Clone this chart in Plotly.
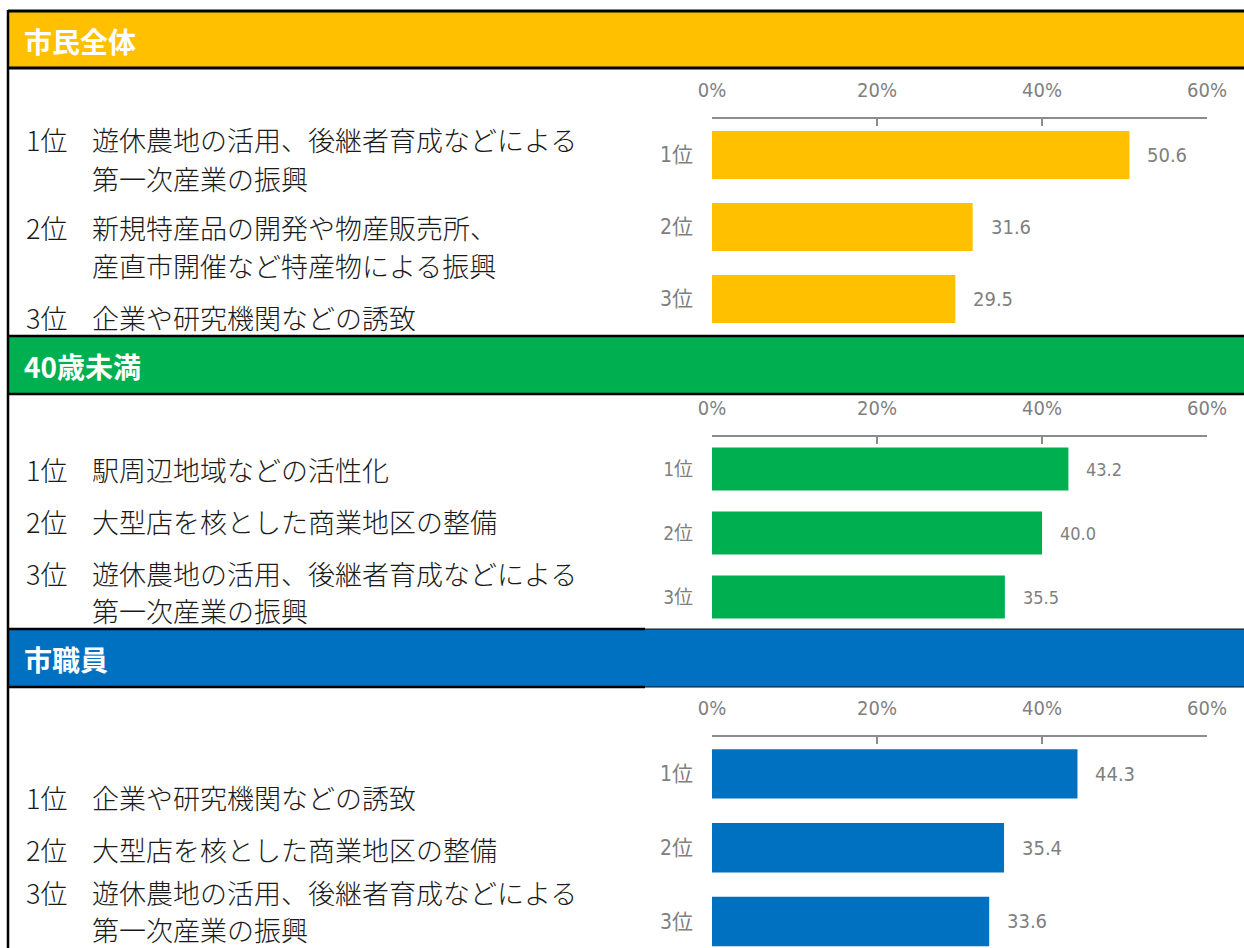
import plotly.graph_objects as go

W, H = 1244, 948

# ---- data -------------------------------------------------------------
section_titles = ["市民全体", "40歳未満", "市職員"]
section_colors = ["#FFC000", "#00B050", "#0070C0"]
ranks = ["1位", "2位", "3位"]

values_all = [50.6, 31.6, 29.5]
values_under40 = [43.2, 40.0, 35.5]
values_staff = [44.3, 35.4, 33.6]

items_all = [
    ["遊休農地の活用、後継者育成などによる", "第一次産業の振興"],
    ["新規特産品の開発や物産販売所、", "産直市開催など特産物による振興"],
    ["企業や研究機関などの誘致"],
]
items_under40 = [
    ["駅周辺地域などの活性化"],
    ["大型店を核とした商業地区の整備"],
    ["遊休農地の活用、後継者育成などによる", "第一次産業の振興"],
]
items_staff = [
    ["企業や研究機関などの誘致"],
    ["大型店を核とした商業地区の整備"],
    ["遊休農地の活用、後継者育成などによる", "第一次産業の振興"],
]

x_ticks = [0, 20, 40, 60]
x_tick_text = ["0%", "20%", "40%", "60%"]


def px(x):
    return x / W


def py(y):
    return 1 - y / H


JP = "Noto Sans CJK JP"
NARROW = "Liberation Sans Narrow, DejaVu Sans Condensed, Liberation Sans, Noto Sans CJK JP, sans-serif"
GRAY = "#7F7F7F"
AXIS_GRAY = "#8C8C8C"

fig = go.Figure()

# panel geometry (pixels): header band, chart area, y-range, label lines
panels = [
    dict(values=values_all, items=items_all, band=(11, 68), plot=(119, 335),
         yrange=[2.5, -0.5], lines=[[140, 178], [228, 265], [317]], fs=20),
    dict(values=values_under40, items=items_under40, band=(336, 394), plot=(437, 629),
         yrange=[2.5, -0.5], lines=[[469], [521], [573, 610]], fs=18),
    dict(values=values_staff, items=items_staff, band=(629, 687), plot=(737, 948),
         yrange=[2.36, -0.5], lines=[[797], [849], [892, 929]], fs=20),
]

shapes = []
annotations = []
layout_axes = {}

for i, p in enumerate(panels):
    n = i + 1
    xa = "x" if n == 1 else f"x{n}"
    ya = "y" if n == 1 else f"y{n}"
    color = section_colors[i]

    fig.add_trace(go.Bar(
        x=p["values"], y=ranks, orientation="h",
        marker=dict(color=color, line=dict(width=0)),
        xaxis=xa, yaxis=ya, showlegend=False, hoverinfo="x+y",
    ))

    layout_axes["xaxis" if n == 1 else f"xaxis{n}"] = dict(
        domain=[px(712), px(1207)], range=[0, 60], side="top", anchor=ya,
        tickvals=x_ticks, ticktext=x_tick_text, automargin=False,
        showline=True, linecolor=AXIS_GRAY, linewidth=1.5,
        ticks="inside", ticklen=7, tickwidth=1.5, tickcolor=AXIS_GRAY,
        showgrid=False, zeroline=False, fixedrange=True,
        tickfont=dict(family=NARROW, size=20, color=GRAY),
        ticklabelstandoff=12,
    )
    layout_axes["yaxis" if n == 1 else f"yaxis{n}"] = dict(
        domain=[py(p["plot"][1]), py(p["plot"][0])], range=p["yrange"],
        type="category", anchor=xa, showline=False, showgrid=False,
        zeroline=False, ticks="", fixedrange=True, automargin=False,
        tickfont=dict(family=NARROW, size=p["fs"] + 1, color=GRAY),
        ticklabelstandoff=18,
    )

    # value labels beside each bar
    for r, v in zip(ranks, p["values"]):
        annotations.append(dict(
            x=v, y=r, xref=xa, yref=ya, text=f"{v:.1f}", showarrow=False,
            xanchor="left", yanchor="middle", xshift=16,
            font=dict(family=NARROW, size=p["fs"], color=GRAY),
        ))

    # header band
    y0, y1 = p["band"]
    shapes.append(dict(type="rect", xref="paper", yref="paper",
                       x0=px(8), x1=px(W), y0=py(y1), y1=py(y0),
                       fillcolor=color, line=dict(width=0), layer="below"))
    if n < 3:
        for yy in (y0, y1):
            shapes.append(dict(type="line", xref="paper", yref="paper",
                               x0=px(8), x1=px(W), y0=py(yy), y1=py(yy),
                               line=dict(color="black", width=3 if n == 1 else 2.5)))
    else:
        for yy in (y0, y1):
            shapes.append(dict(type="line", xref="paper", yref="paper",
                               x0=px(645), x1=px(W), y0=py(yy), y1=py(yy),
                               line=dict(color="#111111", width=1)))
            shapes.append(dict(type="line", xref="paper", yref="paper",
                               x0=px(8), x1=px(645), y0=py(yy), y1=py(yy),
                               line=dict(color="black", width=2.5)))
    annotations.append(dict(
        x=px(22), y=py((y0 + y1) / 2 + 1), xref="paper", yref="paper",
        text=f"<b>{section_titles[i]}</b>", showarrow=False,
        xanchor="left", yanchor="middle",
        font=dict(family=JP, size=28, color="white"),
    ))

    # ranking list on the left
    for r, item, ys in zip(ranks, p["items"], p["lines"]):
        annotations.append(dict(
            x=px(24), y=py(ys[0]), xref="paper", yref="paper", text=r,
            showarrow=False, xanchor="left", yanchor="middle",
            font=dict(family=JP, size=27, color="#1A1A1A", weight=300),
        ))
        for line_text, yy in zip(item, ys):
            annotations.append(dict(
                x=px(90), y=py(yy), xref="paper", yref="paper", text=line_text,
                showarrow=False, xanchor="left", yanchor="middle",
                font=dict(family=JP, size=27, color="#1A1A1A", weight=300),
            ))

# outer left border
shapes.append(dict(type="line", xref="paper", yref="paper",
                   x0=px(8), x1=px(8), y0=py(H), y1=py(10),
                   line=dict(color="black", width=2.5)))

fig.update_layout(
    width=W, height=H,
    margin=dict(l=0, r=0, t=0, b=0, autoexpand=False),
    paper_bgcolor="white", plot_bgcolor="white",
    bargap=0.33,
    shapes=shapes, annotations=annotations,
    **layout_axes,
)

fig.write_html(
    "out.html",
    config={"displayModeBar": False},
    post_script="document.body.style.margin='0';document.body.style.overflow='hidden';",
)
